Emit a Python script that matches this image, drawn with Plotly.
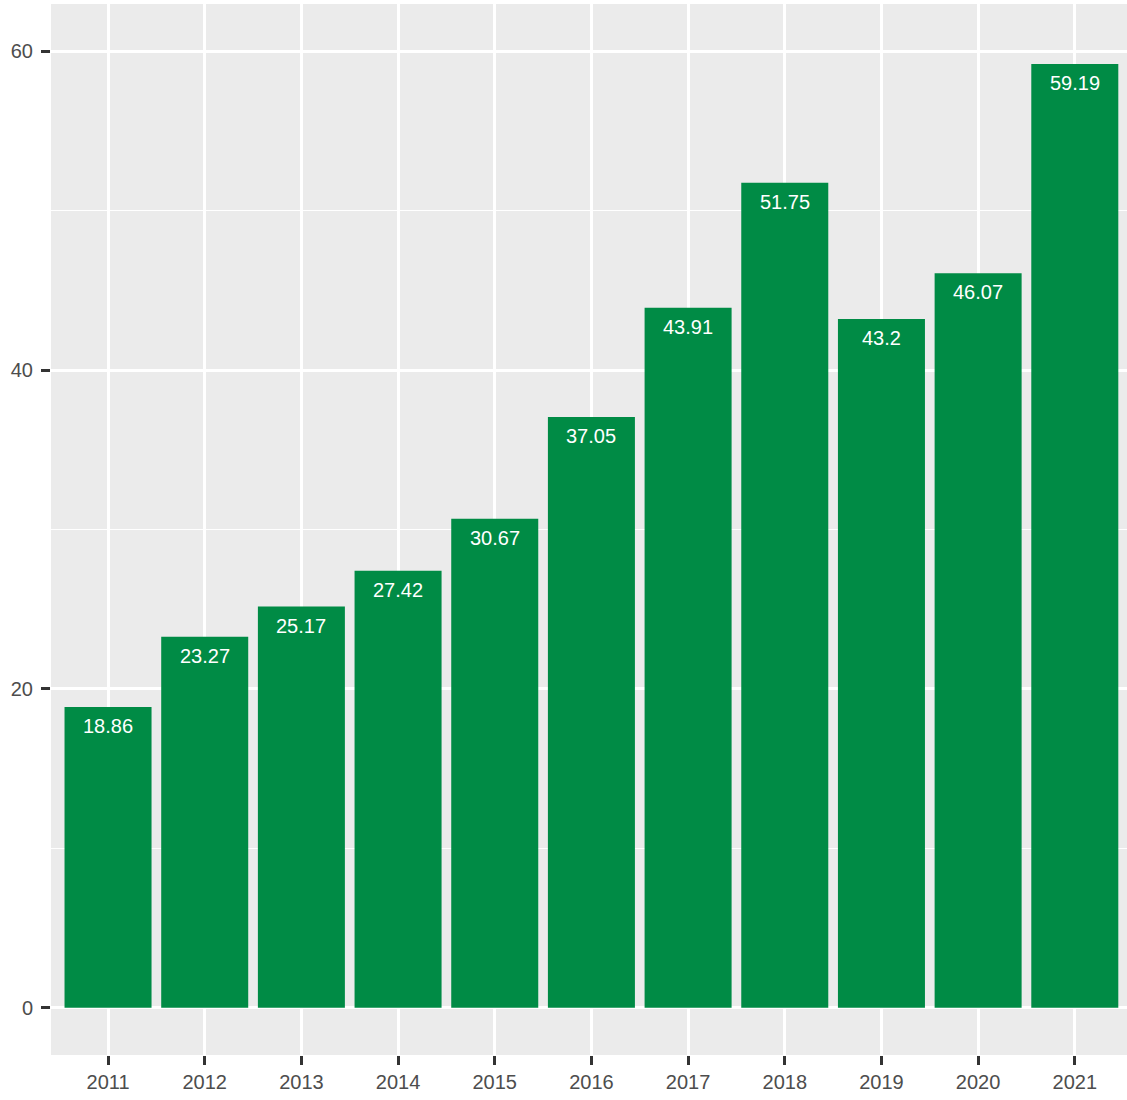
import plotly.graph_objects as go

years = ["2011", "2012", "2013", "2014", "2015", "2016", "2017", "2018", "2019", "2020", "2021"]
values = [18.86, 23.27, 25.17, 27.42, 30.67, 37.05, 43.91, 51.75, 43.2, 46.07, 59.19]
labels = ["18.86", "23.27", "25.17", "27.42", "30.67", "37.05", "43.91", "51.75", "43.2", "46.07", "59.19"]

fig = go.Figure()
fig.add_trace(go.Bar(x=years, y=values, marker=dict(color="#008B45", line=dict(width=0)),
                     width=0.9, hoverinfo="x+y"))

for i, (v, lab) in enumerate(zip(values, labels)):
    fig.add_annotation(x=i, y=v, xref="x", yref="y", text=lab, showarrow=False, yanchor="top", yshift=-6,
                       font=dict(family="Liberation Sans, Arial", size=20, color="white"))

fig.update_layout(
    width=1127, height=1100,
    margin=dict(l=51, r=0, t=4, b=45),
    paper_bgcolor="white", plot_bgcolor="#EBEBEB",
    showlegend=False, bargap=0.1,
    font=dict(family="Liberation Sans, Arial", size=20, color="#4D4D4D"),
)
fig.update_xaxes(type="category", range=[-0.59, 10.54], showgrid=True, gridcolor="white", gridwidth=2.5,
                 ticks="outside", ticklen=9, tickwidth=2.5, tickcolor="#333333",
                 tickfont=dict(size=20, color="#4D4D4D"), zeroline=False, showline=False, fixedrange=True)
fig.update_yaxes(range=[-2.96, 62.96], tickvals=[0, 20, 40, 60], showgrid=True, gridcolor="white", gridwidth=2.5,
                 minor=dict(tickvals=[10, 30, 50], showgrid=True, gridcolor="white", gridwidth=1.2, ticks=""),
                 ticks="outside", ticklen=9, tickwidth=2.5, tickcolor="#333333", ticklabelstandoff=4,
                 tickfont=dict(size=20, color="#4D4D4D"), zeroline=False, showline=False, fixedrange=True)

fig.write_html("out.html", config={"displayModeBar": False},
               post_script="document.body.style.margin='0';document.body.style.overflow='hidden';")
